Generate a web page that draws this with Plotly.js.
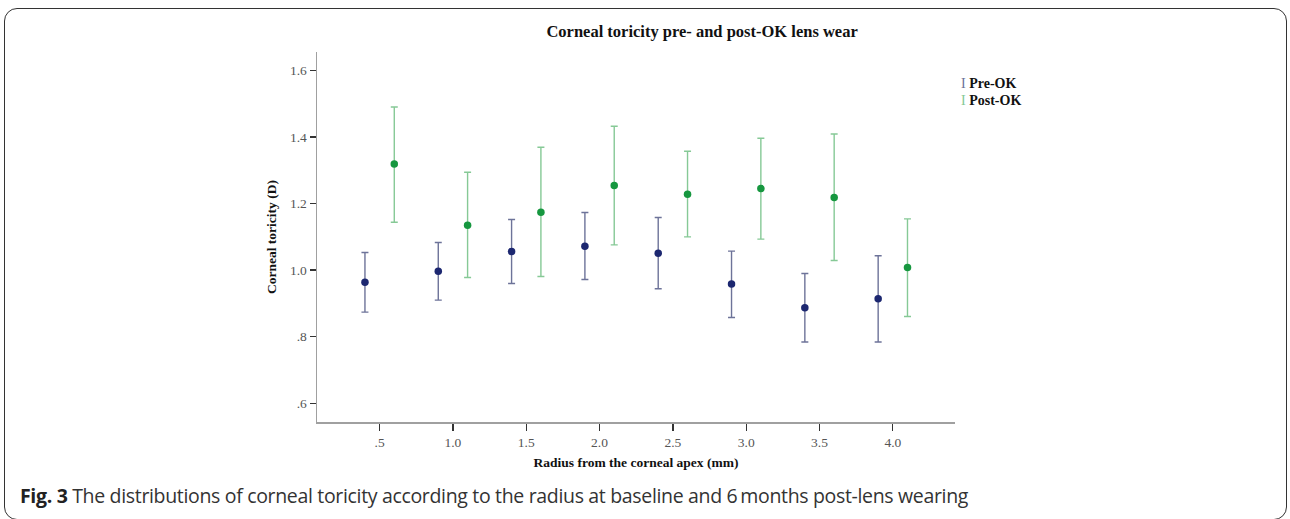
<!DOCTYPE html>
<html>
<head>
<meta charset="utf-8">
<script src="https://cdn.plot.ly/plotly-3.0.1.min.js"></script>
<style>
  html, body { margin: 0; padding: 0; background: #fff; }
  #wrap { position: relative; width: 1290px; height: 519px; overflow: hidden; }
  #chart { position: absolute; left: 0; top: 0; width: 1290px; height: 519px; }
  #frame { position: absolute; left: 4px; top: 8px; width: 1283px; height: 512px;
           border: 1.5px solid #333; border-radius: 13px; box-sizing: border-box; pointer-events: none; }
  #caption { position: absolute; left: 20px; top: 486px; font-family: "Open Sans", "Noto Sans", sans-serif;
             font-size: 19.5px; line-height: 1; color: #333; white-space: nowrap; letter-spacing: -0.33px; }
  #caption b { font-weight: 700; color: #222; }
</style>
</head>
<body>
<div id="wrap">
  <div id="chart"></div>
  <div id="frame"></div>
  <div id="caption"><b>Fig. 3</b> The distributions of corneal toricity according to the radius at baseline and 6&#8201;months post-lens wearing</div>
</div>
<script>
// Radius positions (mm) — groups are offset around each nominal radius
const preX  = [0.4, 0.9, 1.4, 1.9, 2.4, 2.9, 3.4, 3.9];
const postX = [0.6, 1.1, 1.6, 2.1, 2.6, 3.1, 3.6, 4.1];

// Pre-OK: mean, upper and lower error-bar ends (D)
const preMean  = [0.964, 0.997, 1.056, 1.072, 1.051, 0.958, 0.887, 0.914];
const preUpper = [1.053, 1.083, 1.152, 1.173, 1.158, 1.057, 0.990, 1.043];
const preLower = [0.874, 0.910, 0.960, 0.972, 0.944, 0.858, 0.784, 0.784];

// Post-OK: mean, upper and lower error-bar ends (D)
const postMean  = [1.319, 1.135, 1.174, 1.254, 1.228, 1.245, 1.218, 1.008];
const postUpper = [1.490, 1.294, 1.369, 1.432, 1.357, 1.396, 1.409, 1.154];
const postLower = [1.144, 0.978, 0.981, 1.076, 1.100, 1.093, 1.029, 0.861];

const xTickVals = [0.5, 1.0, 1.5, 2.0, 2.5, 3.0, 3.5, 4.0];
const xTickText = ['.5', '1.0', '1.5', '2.0', '2.5', '3.0', '3.5', '4.0'];
const yTickVals = [0.6, 0.8, 1.0, 1.2, 1.4, 1.6];
const yTickText = ['.6', '.8', '1.0', '1.2', '1.4', '1.6'];

const seriesNames = ['Pre-OK', 'Post-OK'];
const preMarkerColor = '#1c2770';
const preBarColor = '#6d7399';
const postMarkerColor = '#16973f';
const postBarColor = '#86c996';

const diff = (a, b) => a.map((v, i) => v - b[i]);

const serif = '"Liberation Serif", "DejaVu Serif", serif';

const tracePre = {
  type: 'scatter', mode: 'markers', name: seriesNames[0],
  x: preX, y: preMean,
  marker: { color: preMarkerColor, size: 7.5 },
  error_y: { type: 'data', symmetric: false,
             array: diff(preUpper, preMean), arrayminus: diff(preMean, preLower),
             color: preBarColor, thickness: 1.4, width: 3.5 },
  showlegend: false
};
const tracePost = {
  type: 'scatter', mode: 'markers', name: seriesNames[1],
  x: postX, y: postMean,
  marker: { color: postMarkerColor, size: 7.5 },
  error_y: { type: 'data', symmetric: false,
             array: diff(postUpper, postMean), arrayminus: diff(postMean, postLower),
             color: postBarColor, thickness: 1.4, width: 3.5 },
  showlegend: false
};

const layout = {
  width: 1290, height: 519,
  margin: { l: 317, r: 335, t: 52, b: 97 },
  paper_bgcolor: 'rgba(0,0,0,0)', plot_bgcolor: 'rgba(0,0,0,0)',
  showlegend: false,
  title: { text: '<b>Corneal toricity pre- and post-OK lens wear</b>',
           font: { family: serif, size: 16.5, color: '#111' },
           xref: 'paper', x: 0.6036, xanchor: 'center',
           yref: 'container', y: 0.94, yanchor: 'middle' },
  xaxis: {
    range: [0.073, 4.424], showgrid: false, zeroline: false,
    showline: true, linecolor: '#a0a0a0', linewidth: 1.5,
    tickvals: xTickVals, ticktext: xTickText,
    ticks: 'outside', ticklen: 7, tickwidth: 1.3, tickcolor: '#333',
    tickfont: { family: serif, size: 13.5, color: '#555' },
    title: { text: '<b>Radius from the corneal apex (mm)</b>', standoff: 9,
             font: { family: serif, size: 13.5, color: '#111' } }
  },
  yaxis: {
    range: [0.544, 1.655], showgrid: false, zeroline: false,
    showline: true, linecolor: '#a0a0a0', linewidth: 1.5,
    tickvals: yTickVals, ticktext: yTickText,
    ticks: 'outside', ticklen: 6, tickwidth: 1.3, tickcolor: '#333',
    tickfont: { family: serif, size: 13.5, color: '#555' },
    title: { text: '<b>Corneal toricity (D)</b>', standoff: 10,
             font: { family: serif, size: 13.5, color: '#111' } }
  },
  annotations: [
    { xref: 'paper', yref: 'paper', x: 1.0055, y: 0.9136, xanchor: 'left', yanchor: 'middle',
      showarrow: false, align: 'left',
      text: '<span style="color:' + preBarColor + '">I</span> <b>' + seriesNames[0] + '</b>',
      font: { family: serif, size: 14, color: '#111' } },
    { xref: 'paper', yref: 'paper', x: 1.0055, y: 0.8677, xanchor: 'left', yanchor: 'middle',
      showarrow: false, align: 'left',
      text: '<span style="color:' + postBarColor + '">I</span> <b>' + seriesNames[1] + '</b>',
      font: { family: serif, size: 14, color: '#111' } }
  ]
};

Plotly.newPlot('chart', [tracePre, tracePost], layout, { displayModeBar: false, staticPlot: true });
</script>
</body>
</html>
